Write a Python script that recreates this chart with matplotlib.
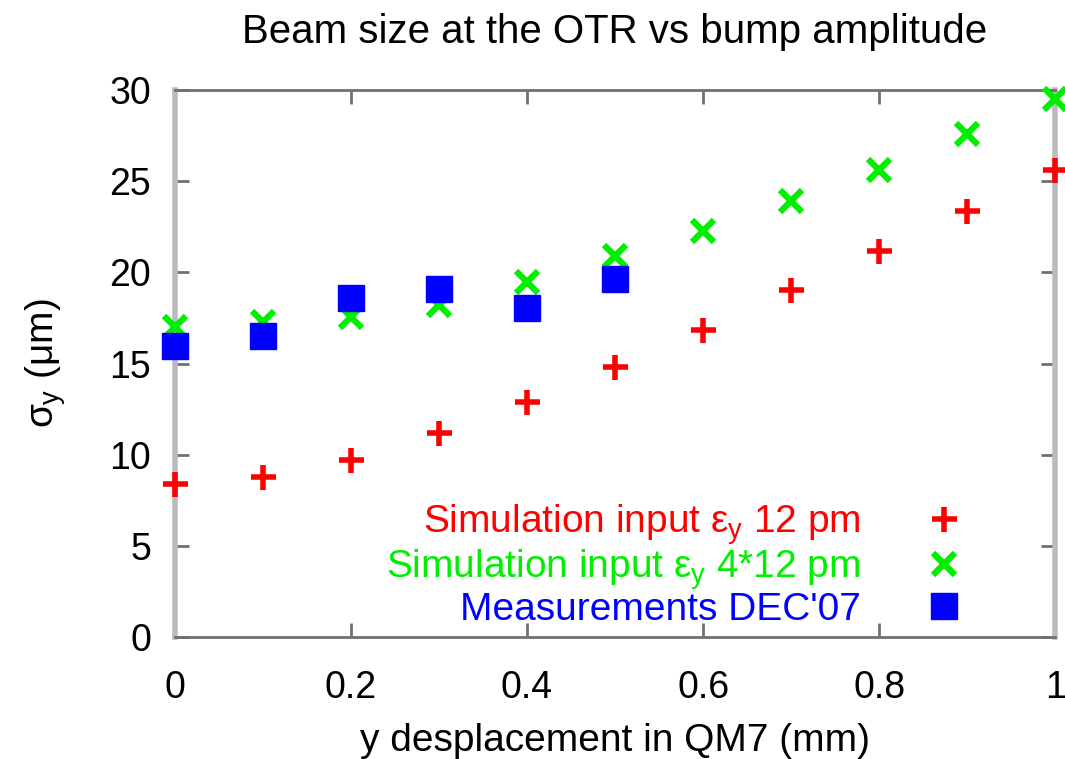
import numpy as np
import matplotlib
matplotlib.use('Agg')
matplotlib.rc('font', family=['Liberation Sans', 'DejaVu Sans'])
matplotlib.rc('mathtext', fontset='custom', rm='Liberation Sans',
              it='Liberation Sans', sf='Liberation Sans')
import matplotlib.pyplot as plt

# bump amplitude (mm)
x_sim = [0.0, 0.1, 0.2, 0.3, 0.4, 0.5, 0.6, 0.7, 0.8, 0.9, 1.0]
sigma_12pm = [8.4, 8.78, 9.7, 11.2, 12.9, 14.8, 16.85, 19.03, 21.17, 23.4, 25.6]
sigma_48pm = [17.0, 17.3, 17.55, 18.2, 19.5, 20.9, 22.3, 23.9, 25.65, 27.6, 29.5]
x_meas = [0.0, 0.1, 0.2, 0.3, 0.4, 0.5]
sigma_meas = [15.95, 16.5, 18.6, 19.1, 18.05, 19.65]

labels = [r'Simulation input $\varepsilon_\mathrm{y}$ 12 pm',
          r'Simulation input $\varepsilon_\mathrm{y}$ 4*12 pm',
          "Measurements DEC'07"]


def main():
    fig = plt.figure(figsize=(10.65, 7.59), dpi=100)
    ax = fig.add_axes([0.164, 0.161, 0.827, 0.720])

    ax.plot(x_sim, sigma_12pm, ls='none', marker='+', ms=18, mew=4,
            color='#ff0000', label=labels[0], clip_on=False, zorder=3)
    ax.plot(x_sim, sigma_48pm, ls='none', marker='x', ms=16, mew=4.5,
            color='#00ee00', label=labels[1], clip_on=False, zorder=3)
    ax.plot(x_meas, sigma_meas, ls='none', marker='s', ms=19,
            color='#0000ff', label=labels[2], clip_on=False, zorder=4)

    ax.set_xlim(0, 1)
    ax.set_ylim(0, 30)
    ax.set_xticks([0, 0.2, 0.4, 0.6, 0.8, 1])
    ax.set_xticklabels(['0', '0.2', '0.4', '0.6', '0.8', '1'])
    ax.set_yticks(range(0, 31, 5))
    ax.tick_params(direction='in', length=10, width=2, color='#707070',
                   top=True, right=True, labelsize=27)
    ax.tick_params(axis='x', pad=24)
    ax.tick_params(axis='y', pad=17)

    for side in ('left', 'right'):
        ax.spines[side].set_color('#bbbbbb')
        ax.spines[side].set_linewidth(4)
    for side in ('top', 'bottom'):
        ax.spines[side].set_color('#707070')
        ax.spines[side].set_linewidth(2)

    ax.set_title('Beam size at the OTR vs bump amplitude', fontsize=29, pad=34)
    ax.set_xlabel('y desplacement in QM7 (mm)', fontsize=28, labelpad=12)
    ax.set_ylabel(r'$\sigma_\mathrm{y}$ (μm)', fontsize=28, labelpad=30)

    ax.legend(loc='lower right', markerfirst=False, frameon=False,
              fontsize=28, labelcolor='linecolor', handlelength=0.8,
              handletextpad=1.75, labelspacing=0.0, borderaxespad=0.0,
              bbox_to_anchor=(0.909, -0.012))

    fig.savefig('out.png', dpi=100)


if __name__ == '__main__':
    main()
